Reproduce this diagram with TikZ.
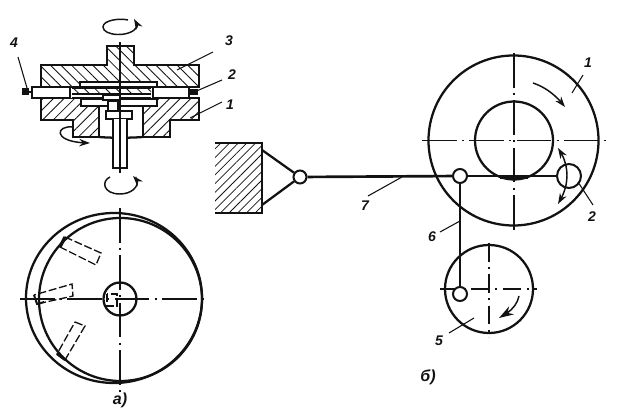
\documentclass[tikz,border=0pt]{standalone}
\usepackage{fontspec}
\setmainfont{Liberation Sans}
\usetikzlibrary{patterns.meta,arrows.meta,bending}
\definecolor{ink}{gray}{0.07}
\tikzset{
  thick line/.style={draw=ink,line width=1.7pt},
  mid line/.style={draw=ink,line width=1.2pt},
  thin line/.style={draw=ink,line width=0.8pt},
  axis line/.style={draw=ink,line width=0.85pt,dash pattern=on 26pt off 4pt on 1.5pt off 4pt},
  dash box/.style={draw=ink,line width=1.0pt,dash pattern=on 6pt off 2pt},
  hatch down/.style={pattern={Lines[angle=-45,distance=5.6pt,line width=0.65pt]},pattern color=ink},
  hatch up/.style={pattern={Lines[angle=45,distance=5.6pt,line width=0.65pt]},pattern color=ink},
  hatch fine/.style={pattern={Lines[angle=45,distance=4.6pt,line width=0.55pt]},pattern color=ink},
  turn arrow/.style={draw=ink,line width=1.1pt,-{Stealth[length=8pt,width=5.5pt]}},
  lab/.style={font=\itshape\bfseries\fontsize{10.5}{11}\selectfont,text=ink,inner sep=0pt},
  caplab/.style={font=\itshape\bfseries\fontsize{12}{13}\selectfont,text=ink,inner sep=0pt},
  pivot/.style={circle,draw=ink,line width=1.5pt,fill=white,inner sep=0pt}
}
\begin{document}
\begin{tikzpicture}[x=0.75pt,y=-0.75pt]
\useasboundingbox (0,0) rectangle (621,416);
% ---------- section view
\path[thick line,hatch down] (41,65) -- (107,65) -- (107,46) -- (134,46) -- (134,65) -- (199,65) -- (199,87) -- (41,87) -- cycle;
\path[thick line,hatch up] (41,98) -- (81,98) -- (81,106) -- (99,106) -- (99,137) -- (73,137) -- (73,120) -- (41,120) -- cycle;
\path[thick line,hatch up] (199,98) -- (157,98) -- (157,106) -- (143,106) -- (143,137) -- (170,137) -- (170,120) -- (199,120) -- cycle;
\draw[thick line] (99,137) .. controls (110,138) and (130,138) .. (143,137);
% cavity with disc stack
\path[fill=white] (70,88) rectangle (153,98);
\path[fill=white] (80,82) rectangle (157,88);
\draw[thick line,fill=white] (32,87) rectangle (70,98);
\draw[thick line,fill=white] (153,87) rectangle (189,98);
\draw[mid line,fill=white] (80,82) -- (157,82) -- (157,87) -- (80,87) -- cycle;
\path[hatch down] (72,89) rectangle (151,93);
\draw[mid line] (72,88.5) -- (151,88.5);
\draw[thick line] (72,94) -- (151,94);
\draw[mid line] (72,98) -- (151,98);
\draw[mid line,fill=white] (81,99) rectangle (157,106);
\draw[mid line,fill=white] (103,95) rectangle (120,100);
\draw[mid line,fill=white] (108,101) rectangle (118,111);
\draw[thick line,fill=white] (106,111) rectangle (132,119);
\draw[thick line,fill=white] (113,119) -- (113,168) -- (127,168) -- (127,119);
\draw[mid line] (113,168) -- (127,168);
\draw[thick line,fill=ink] (23,89.5) rectangle (28,94);
\draw[mid line] (28,92) -- (32,92);
\draw[thick line,fill=ink] (190,90) rectangle (197,94);
% axis
\coordinate (secTop) at (120,42);
\coordinate (secBot) at (120,173);
\draw[thin line] (secTop) -- (secBot);
% rotation arrows
\draw[turn arrow] (128,20) .. controls (120,18) and (103,20) .. (103,27) .. controls (103,36) and (130,38) .. (137,27) .. controls (138,24) and (137,21) .. (134,19);
\draw[turn arrow] (110,177) .. controls (101,181) and (103,194) .. (120,194) .. controls (131,194) and (139,187) .. (137,180) .. controls (136,178) and (135,177) .. (133,176);
\draw[turn arrow] (73,127) .. controls (55,125) and (52,143) .. (90,143);
% labels section
\node[lab] (n4) at (14,43) {4};
\node[lab] (n3) at (229,41) {3};
\node[lab] (n2a) at (232,75) {2};
\node[lab] (n1a) at (230,105) {1};
\draw[thin line] (18,57) -- (27,88);
\draw[thin line] (177,70) -- (213,52);
\draw[thin line] (192,93) -- (222,80);
\draw[thin line] (190,118) -- (222,102);
% ---------- plan view a)
\draw[thick line] (114,298) ellipse [x radius=88,y radius=85];
\draw[thick line] (120.5,299.5) circle (81.5);
\draw[thick line] (120,299) circle (16.5);
\draw[axis line] (20,299) -- (205,299);
\draw[axis line] (120,208) -- (120,392);
\draw[dash box] (65,237) -- (60,247) -- (96,265) -- (101,253) -- cycle;
\draw[dash box] (34,295) -- (37,304) -- (73,296) -- (72,284) -- cycle;
\draw[dash box] (75,322) -- (85,326) -- (65,360) -- (57,354) -- cycle;
\draw[dash box] (107,294) rectangle (117,306);
\draw[line width=2.4pt,draw=ink] (65,237) -- (60,247);
\draw[line width=1.4pt,draw=ink] (34,295) -- (37,304) -- (44,302);
\draw[line width=1.7pt,draw=ink] (65,360) -- (57,354);
\node[caplab] (capA) at (120,400) {а)};
% ---------- hatched support and lever
\path[hatch fine] (215,143) rectangle (262,213);
\draw[thick line] (215,143) -- (262,143) -- (262,213) -- (215,213);
\coordinate (trTop) at (262,150);
\coordinate (trBot) at (262,205);
\node[pivot,minimum size=13pt*0.75] (fix) at (300,177) {};
\draw[thick line] (trTop) -- (fix);
\draw[thick line] (trBot) -- (fix);
% ---------- cam 1
\draw[thick line] (513.5,140.5) circle (85);
\draw[thick line] (514,140.5) circle (39);
\draw[axis line] (422,140.5) -- (607,140.5);
\draw[axis line] (514,53) -- (514,230);
\node[pivot,minimum size=14pt*0.75] (j7) at (460,176) {};
\node[pivot,minimum size=24pt*0.75] (roll) at (569,176) {};
\draw[line width=2pt,draw=ink] (fix) -- (j7);
\draw[line width=2pt,draw=ink] (j7) -- (roll);
\draw[draw=ink,line width=2pt] (500,177.5) -- (528,177.5);
\coordinate (tag7) at (402,177);
\draw[thin line] (368,196) -- (tag7);
\node[lab] (n7) at (365,206) {7};
% arrows at cam
\draw[turn arrow] (533,83) .. controls (545,87) and (556,95) .. (565,107);
\draw[draw=ink,line width=1.1pt,{Stealth[length=8pt,width=5.5pt]}-{Stealth[length=8pt,width=5.5pt]}] (558,148) .. controls (570,165) and (570,185) .. (558,204);
\node[lab] (n1b) at (588,63) {1};
\node[lab] (n2b) at (592,217) {2};
\draw[thin line] (572,93) -- (583,75);
\draw[thin line] (578,182) -- (593,205);
% ---------- cam 5
\draw[thick line] (489,289) circle (44);
\draw[axis line,dash pattern=on 14pt off 4pt on 1.5pt off 4pt] (440,289) -- (537,289);
\draw[axis line,dash pattern=on 14pt off 4pt on 1.5pt off 4pt] (489,243) -- (489,337);
\node[pivot,minimum size=14pt*0.75] (crank) at (460,294) {};
\draw[thick line] (j7) -- (crank);
\draw[turn arrow,-{Stealth[length=11pt,width=7pt]}] (519,296) .. controls (517,306) and (509,313) .. (499,318);
\node[lab] (n6) at (432,237) {6};
\node[lab] (n5) at (439,341) {5};
\draw[thin line] (440,232) -- (460,221);
\draw[thin line] (449,333) -- (474,318);
\node[caplab] (capB) at (428,377) {б)};
\end{tikzpicture}
\end{document}
